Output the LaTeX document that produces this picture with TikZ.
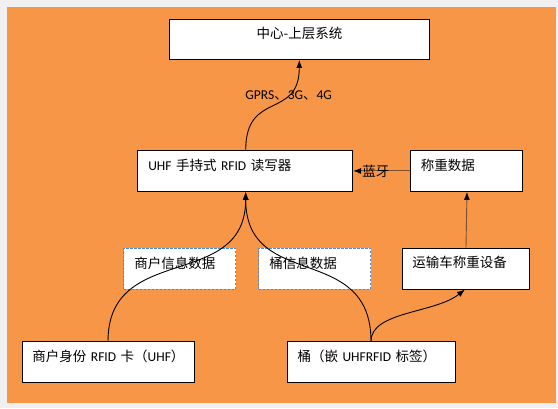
\documentclass[tikz,border=0pt]{standalone}
\usepackage{fontspec}
\setmainfont{Carlito}
\newfontfamily\cjk{Noto Sans CJK SC}
\usetikzlibrary{arrows.meta}
\definecolor{bg_orange}{RGB}{247,150,70}
\definecolor{bg_gray}{RGB}{240,240,240}
\definecolor{edge_brown}{RGB}{125,80,45}
\definecolor{edge_blue}{RGB}{79,139,210}

\begin{document}
\begin{tikzpicture}[->,>={Latex[length=8pt,width=6pt,color=black]},x=1pt,y=1pt,line width=0.9pt]
    \tikzstyle{box}=[draw=black,fill=white,anchor=north west,minimum height=41pt,inner xsep=10.5pt,inner ysep=0pt,text height=10.5pt,text depth=11.5pt,align=left,font=\fontsize{13.5pt}{16pt}\selectfont]
    \tikzstyle{boxinfo}=[style=box,draw=edge_blue,line width=1pt,dash pattern=on 2.5pt off 1.5pt]
    \tikzstyle{label}=[text=black,inner sep=0pt,font=\fontsize{13.5pt}{16pt}\selectfont]

    \useasboundingbox (0,0) rectangle (558,408);
    \fill[bg_gray] (0,0) rectangle (558,408);
    \fill[bg_orange] (7,5.5) rectangle (555.5,401);

    \node[box,minimum width=260pt,minimum height=40pt,align=center] (center) at (169,389)   {{\cjk 中心-上层系统}};
    \node[box,text width=194pt]   (reader)  at (137.3,258) {\mbox{UHF {\cjk 手持式} RFID {\cjk 读写器}}};
    \node[box,text width=91.3pt]  (weight)  at (410,258)   {{\cjk 称重数据}};
    \node[boxinfo,text width=91pt] (minfo)  at (123.3,160.3) {{\cjk 商户信息数据}};
    \node[boxinfo,text width=91pt] (binfo)  at (258.3,160.3) {{\cjk 桶信息数据}};
    \node[box,text width=106.5pt] (truck)   at (401.5,160.5) {{\cjk 运输车称重设备}};
    \node[box,text width=151pt]   (card)    at (21.5,66.7)   {\mbox{{\cjk 商户身份} RFID {\cjk 卡（}UHF{\cjk ）}}};
    \node[box,text width=147pt]   (barrel)  at (286.6,66.7)  {\mbox{{\cjk 桶（嵌} UHFRFID {\cjk 标签）}}};

    \node[label,anchor=west] (gprs) at (245,313) {GPRS{\cjk 、}3G{\cjk 、}4G};

    \draw ([xshift=108.4pt]reader.north west) .. controls +(0,60) and +(0,-60) .. ([xshift=130.3pt]center.south west);
    \draw[edge_brown] (weight.west) -- node[label,pos=0.6] {\cjk 蓝牙} (reader.east);
    \draw[edge_brown] ([xshift=64.5pt]truck.north west) -- ([xshift=57pt]weight.south west);
    \draw ([xshift=86.5pt]card.north west) .. controls +(0,100) and +(0,-100) .. ([xshift=108.4pt]reader.south west);
    \draw ([xshift=84.4pt]barrel.north west) .. controls +(0,100) and +(0,-100) .. ([xshift=108.4pt]reader.south west);
    \draw ([xshift=84.4pt]barrel.north west) .. controls +(0,30) and +(-30,-24) .. ([xshift=63.5pt]truck.south west);
\end{tikzpicture}
\end{document}
